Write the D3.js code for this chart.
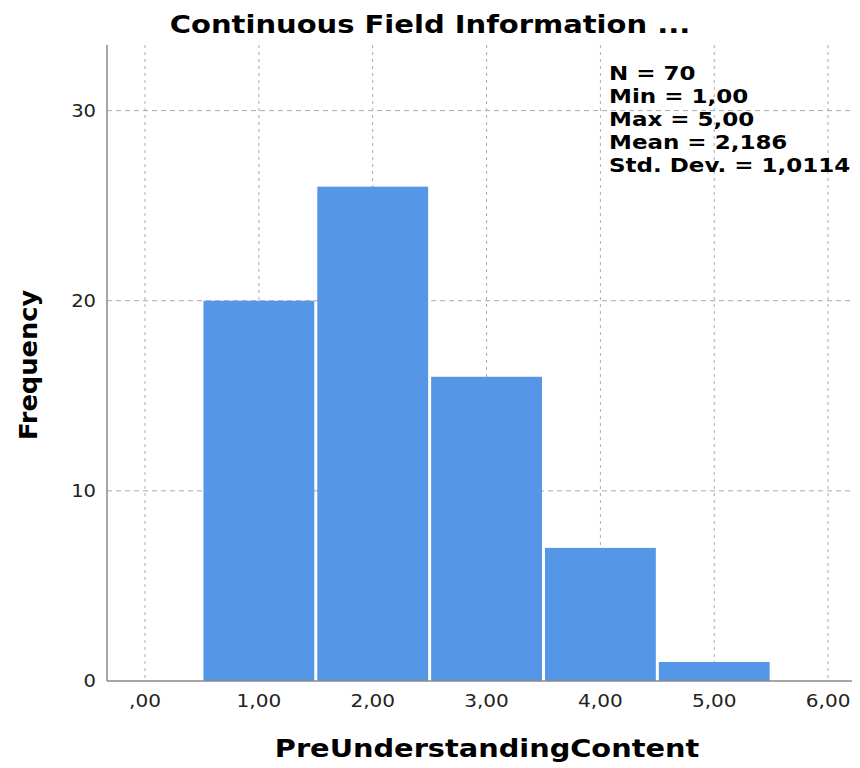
<!DOCTYPE html>
<html lang="en">
<head>
<meta charset="UTF-8">
<title>Histogram</title>
<style>
    body { margin: 0; background: #fff; }
    text { font-family: "DejaVu Sans", Verdana, sans-serif; }
    .title, .axis-label, .stats { font-weight: bold; fill: #000; }
</style>
</head>
<body>
<svg id="chart" width="860" height="768"></svg>
<script src="https://d3js.org/d3.v7.min.js"></script>
<script>
    // bins centred on 1..5, width 1
    const binCenters = [1, 2, 3, 4, 5];
    const frequencies = [20, 26, 16, 7, 1];
    const xTicks = [0, 1, 2, 3, 4, 5, 6];
    const yTicks = [0, 10, 20, 30];
    const statLines = ["N = 70", "Min = 1,00", "Max = 5,00", "Mean = 2,186", "Std. Dev. = 1,0114"];

    const svg = d3.select("#chart");
    const plotLeft = 107, plotRight = 852, plotTop = 45, plotBottom = 681;

    const x = d3.scaleLinear().domain([-0.334, 6.21]).range([plotLeft, plotRight]);
    const y = d3.scaleLinear().domain([0, 33.45]).range([plotBottom, plotTop]);

    const fmt = v => v === 0 ? ",00" : d3.format(".2f")(v).replace(".", ",");

    // grid
    svg.append("g").selectAll("line")
        .data(yTicks.filter(d => d > 0))
        .join("line")
        .attr("x1", plotLeft).attr("x2", plotRight)
        .attr("y1", d => y(d)).attr("y2", d => y(d))
        .attr("stroke", "#aaa").attr("stroke-width", 1)
        .attr("stroke-dasharray", "5,4");

    svg.append("g").selectAll("line")
        .data(xTicks)
        .join("line")
        .attr("x1", d => x(d)).attr("x2", d => x(d))
        .attr("y1", plotTop).attr("y2", plotBottom)
        .attr("stroke", "#aaa").attr("stroke-width", 1)
        .attr("stroke-dasharray", "3,4");

    // bars
    svg.append("g").selectAll("rect")
        .data(binCenters)
        .join("rect")
        .attr("x", d => x(d - 0.5) + 1.5)
        .attr("width", d => x(d + 0.5) - x(d - 0.5) - 3)
        .attr("y", (d, i) => y(frequencies[i]))
        .attr("height", (d, i) => y(0) - y(frequencies[i]))
        .attr("fill", "#5596e6");

    // axis lines
    svg.append("line")
        .attr("x1", plotLeft).attr("x2", plotLeft).attr("y1", plotTop).attr("y2", plotBottom)
        .attr("stroke", "#888").attr("stroke-width", 1.5);
    svg.append("line")
        .attr("x1", plotLeft).attr("x2", plotRight).attr("y1", plotBottom).attr("y2", plotBottom)
        .attr("stroke", "#888").attr("stroke-width", 1.5);

    // tick labels
    svg.append("g").selectAll("text")
        .data(yTicks)
        .join("text")
        .attr("transform", d => `translate(${plotLeft - 11},${y(d)}) scale(1.15,1)`)
        .attr("dy", "0.35em")
        .attr("text-anchor", "end")
        .attr("font-size", 17)
        .attr("fill", "#222")
        .text(d => d);

    svg.append("g").selectAll("text")
        .data(xTicks)
        .join("text")
        .attr("transform", d => `translate(${x(d)},${plotBottom + 26}) scale(1.18,1)`)
        .attr("text-anchor", "middle")
        .attr("font-size", 17)
        .attr("fill", "#222")
        .text(fmt);

    // title and axis labels (source font is wider than DejaVu, so stretch a bit)
    svg.append("text")
        .attr("class", "title")
        .attr("transform", "translate(430,33) scale(1.16,1)")
        .attr("text-anchor", "middle")
        .attr("font-size", 25)
        .text("Continuous Field Information ...");

    svg.append("text")
        .attr("class", "axis-label")
        .attr("transform", "translate(37,365) rotate(-90) scale(1.07,1)")
        .attr("text-anchor", "middle")
        .attr("font-size", 24)
        .text("Frequency");

    svg.append("text")
        .attr("class", "axis-label")
        .attr("transform", "translate(487,757) scale(1.2,1)")
        .attr("text-anchor", "middle")
        .attr("font-size", 24)
        .text("PreUnderstandingContent");

    // stats box
    svg.append("g").selectAll("text")
        .data(statLines)
        .join("text")
        .attr("class", "stats")
        .attr("transform", (d, i) => `translate(609,${80 + i * 23}) scale(1.15,1)`)
        .attr("font-size", 20)
        .text(d => d);
</script>
</body>
</html>
